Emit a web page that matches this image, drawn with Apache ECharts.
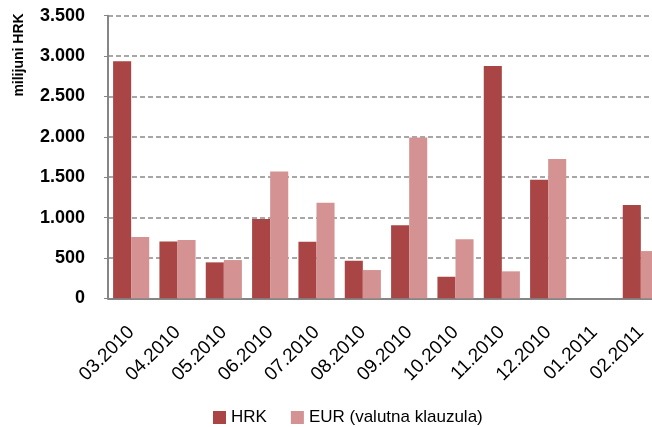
<!DOCTYPE html>
<html>
<head>
<meta charset="utf-8">
<script src="https://cdn.jsdelivr.net/npm/echarts@6/dist/echarts.min.js"></script>
<style>html,body{margin:0;padding:0;background:#fff}#c{width:652px;height:427px}</style>
</head>
<body>
<div id="c"></div>
<script>
const categories = ['03.2010','04.2010','05.2010','06.2010','07.2010','08.2010','09.2010','10.2010','11.2010','12.2010','01.2011','02.2011'];
const hrkValues = [2935, 705, 445, 981, 700, 465, 906, 267, 2876, 1467, 0, 1154];
const eurValues = [758, 721, 474, 1570, 1182, 350, 1991, 730, 334, 1726, 0, 585];
const yTicks = [0, 500, 1000, 1500, 2000, 2500, 3000, 3500];
const seriesNames = ['HRK', 'EUR (valutna klauzula)'];
const yAxisName = 'milijuni HRK';

const font = "'Liberation Sans', Arial, sans-serif";
const chart = echarts.init(document.getElementById('c'));
chart.setOption({
  animation: false,
  grid: { left: 108, top: 15.7, width: 556, height: 282.6, containLabel: false, outerBoundsMode: 'none' },
  legend: {
    data: seriesNames,
    top: 404, left: 208,
    itemWidth: 13, itemHeight: 13, itemGap: 24,
    icon: 'rect',
    textStyle: { fontFamily: font, fontSize: 17, color: '#000' }
  },
  graphic: [{
    type: 'text',
    x: 26, y: 55,
    rotation: Math.PI / 2,
    style: { text: yAxisName, font: "bold 14px 'Liberation Sans', Arial, sans-serif", fill: '#000', align: 'center', verticalAlign: 'bottom' }
  }],
  xAxis: {
    type: 'category',
    data: categories,
    axisLine: { lineStyle: { color: '#868686', width: 2 } },
    axisTick: { show: false },
    axisLabel: {
      interval: 0, rotate: 45, margin: 31,
      fontFamily: font, fontSize: 19, color: '#000'
    }
  },
  yAxis: {
    type: 'value',
    min: yTicks[0], max: yTicks[yTicks.length - 1], interval: 500,
    axisLine: { show: true, lineStyle: { color: '#868686', width: 2 } },
    axisTick: { show: true, length: 4, lineStyle: { color: '#868686' } },
    splitLine: { lineStyle: { color: '#8a8a8a', type: [5, 3], width: 1.5 } },
    axisLabel: {
      margin: 23, fontFamily: font, fontWeight: 'bold', fontSize: 18, color: '#000',
      formatter: v => v >= 1000 ? Math.floor(v / 1000) + '.' + String(v % 1000).padStart(3, '0') : String(v)
    }
  },
  series: [
    { name: seriesNames[0], type: 'bar', data: hrkValues, barGap: '0%', barCategoryGap: '22%',
      itemStyle: { color: '#A94544' } },
    { name: seriesNames[1], type: 'bar', data: eurValues, barGap: '0%', barCategoryGap: '22%',
      itemStyle: { color: '#D49392' } }
  ]
});
</script>
</body>
</html>
